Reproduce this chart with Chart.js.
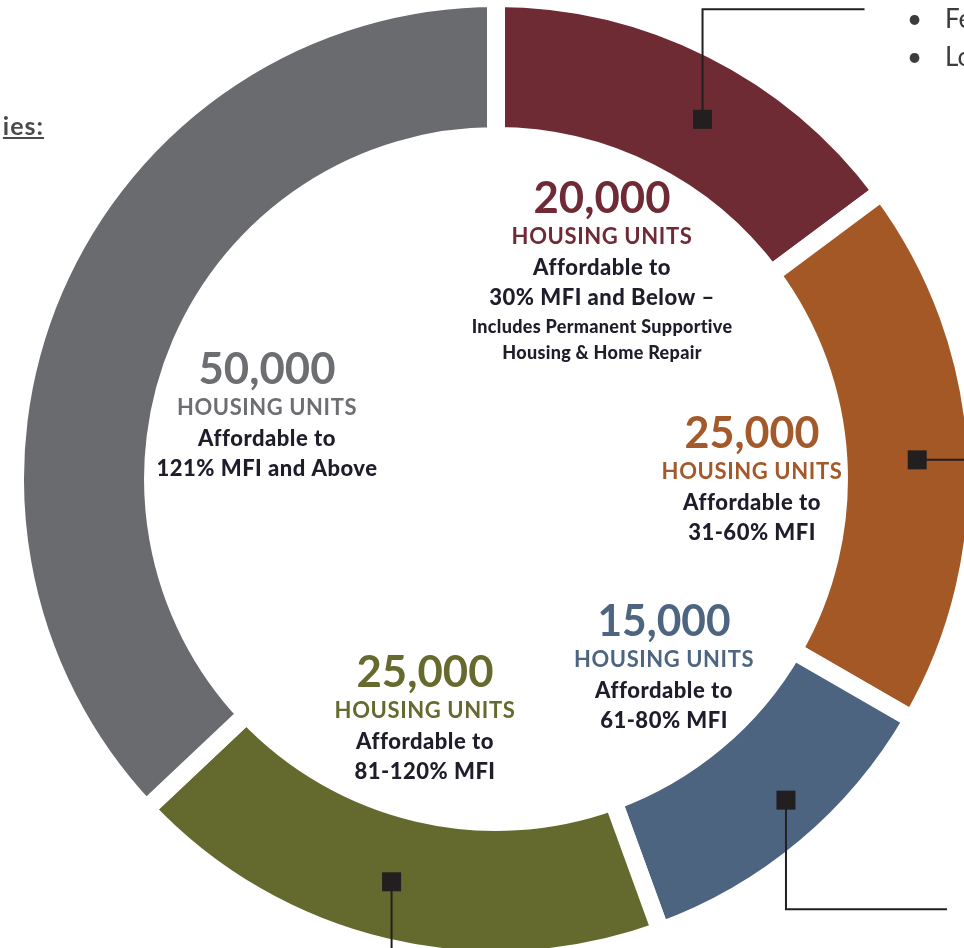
<!DOCTYPE html>
<html>
<head>
<meta charset="utf-8">
<script src="https://cdn.jsdelivr.net/npm/chart.js@4"></script>
<style>
  html, body { margin: 0; padding: 0; background: #fff; }
  #wrap { position: relative; width: 964px; height: 948px; overflow: hidden; }
  #c { position: absolute; left: 0; top: 0; }
  .side { position: absolute; font-family: Lato, "DejaVu Sans", sans-serif; color: #3c3c3e; }
  #ies { right: 920px; top: 110px; font-size: 25px; font-weight: bold; letter-spacing: 1px; text-decoration: underline; color: #4a4a4c; white-space: nowrap; }
  .bul { font-size: 26px; white-space: nowrap; }
</style>
</head>
<body>
<div id="wrap">
  <canvas id="c" width="964" height="948"></canvas>
  <div id="ies" class="side">ies:</div>
  <div class="side bul" style="left:907px; top:2px;">•</div>
  <div class="side bul" style="left:945px; top:2px;">Fe</div>
  <div class="side bul" style="left:907px; top:40px;">•</div>
  <div class="side bul" style="left:945px; top:40px;">Lo</div>
</div>
<script>
// ---- data ----
const categories = ['30% MFI and Below', '31-60% MFI', '61-80% MFI', '81-120% MFI', '121% MFI and Above'];
const units = [20000, 25000, 15000, 25000, 50000];
const unitLabel = 'HOUSING UNITS';
const descriptions = [
  ['Affordable to', '30% MFI and Below –'],
  ['Affordable to', '31-60% MFI'],
  ['Affordable to', '61-80% MFI'],
  ['Affordable to', '81-120% MFI'],
  ['Affordable to', '121% MFI and Above']
];
const notes = [
  ['Includes Permanent Supportive', 'Housing & Home Repair'],
  [], [], [], []
];
const segmentColors = ['#6F2B33', '#A35826', '#4D6480', '#646A2E', '#6A6B6F'];
const titleColors = ['#6F2A35', '#A4592A', '#4E6581', '#666A2F', '#6D6E72'];

// ---- annotation layout (kept out of Chart's option resolver) ----
const ANNOT = {
  lineColor: '#231F20',
  textColor: '#1E1D2B',
  markers: [
    { show: true, along: 0.56, depth: 0.52, leader: [[0, -110], [162, 0]] },
    { show: true, along: 0.511, depth: 0.57, leader: [[80, 0]] },
    { show: true, along: 0.448, depth: 0.65, leader: [[0, 109], [161, 0]] },
    { show: true, along: 0.518, depth: 0.53, leader: [[0, 90]] },
    { show: false, along: 0.5, depth: 0.5, leader: [] }
  ],
  labels: [
    { dx: 106, dy: -280, widths: [137, 183, 146, 238, 290, 220] },
    { dx: 256, dy: -45, widths: [135, 183, 146, 133] },
    { dx: 168, dy: 143, widths: [133, 180, 146, 133] },
    { dx: -71, dy: 194, widths: [137, 183, 146, 146] },
    { dx: -229, dy: -109, widths: [137, 180, 146, 231] }
  ]
};

const annotPlugin = {
  id: 'annot',
  afterDatasetsDraw(chart) {
    const opts = ANNOT;
    const ctx = chart.ctx;
    const meta = chart.getDatasetMeta(0);
    ctx.save();
    meta.data.forEach((arc, i) => {
      const p = arc.getProps(['x', 'y', 'startAngle', 'endAngle', 'innerRadius', 'outerRadius'], true);
      const m = opts.markers[i];
      if (m && m.show) {
        const a = p.startAngle + (p.endAngle - p.startAngle) * m.along;
        const r = p.innerRadius + (p.outerRadius - p.innerRadius) * m.depth;
        const mx = p.x + Math.cos(a) * r, my = p.y + Math.sin(a) * r;
        ctx.strokeStyle = opts.lineColor;
        ctx.lineWidth = 2;
        ctx.beginPath();
        ctx.moveTo(mx, my);
        let lx = mx, ly = my;
        m.leader.forEach(([dx, dy]) => { lx += dx; ly += dy; ctx.lineTo(lx, ly); });
        ctx.stroke();
        ctx.fillStyle = opts.lineColor;
        ctx.fillRect(mx - 9.5, my - 9.5, 19, 19);
      }

      const L = opts.labels[i];
      const x = p.x + L.dx;
      let y = p.y + L.dy;
      ctx.textAlign = 'center';
      ctx.textBaseline = 'middle';
      const lines = [];
      lines.push({ t: units[i].toLocaleString('en-US'), f: 'bold 44px Lato', c: titleColors[i], gap: 0, ls: '0px' });
      lines.push({ t: unitLabel, f: 'bold 22px Lato', c: titleColors[i], gap: 38, ls: '0.6px' });
      descriptions[i].forEach((t, k) => lines.push({ t, f: '900 22px Lato', c: opts.textColor, gap: k === 0 ? 31 : 30, ls: '0.5px' }));
      notes[i].forEach((t, k) => lines.push({ t, f: '900 18px Lato', c: opts.textColor, gap: k === 0 ? 29 : 26, ls: '0.3px' }));
      lines.forEach((ln, k) => {
        y += ln.gap;
        ctx.font = ln.f;
        ctx.letterSpacing = ln.ls;
        ctx.fillStyle = ln.c;
        ctx.fillText(ln.t, x, y, L.widths[k]);
      });
      ctx.letterSpacing = '0px';
    });
    ctx.restore();
  }
};

new Chart(document.getElementById('c'), {
  type: 'doughnut',
  data: {
    labels: categories,
    datasets: [{
      data: units,
      backgroundColor: segmentColors,
      borderColor: '#ffffff',
      borderWidth: 18,
      borderAlign: 'center',
      borderJoinStyle: 'miter',
      hoverOffset: 0,
      clip: false
    }]
  },
  options: {
    responsive: false,
    animation: false,
    events: [],
    radius: 481,
    cutout: '71.3%',
    rotation: 0,
    layout: { padding: { left: 28, right: 0, top: 10, bottom: 0 } },
    plugins: {
      legend: { display: false },
      tooltip: { enabled: false }
    }
  },
  plugins: [annotPlugin]
});
</script>
</body>
</html>
